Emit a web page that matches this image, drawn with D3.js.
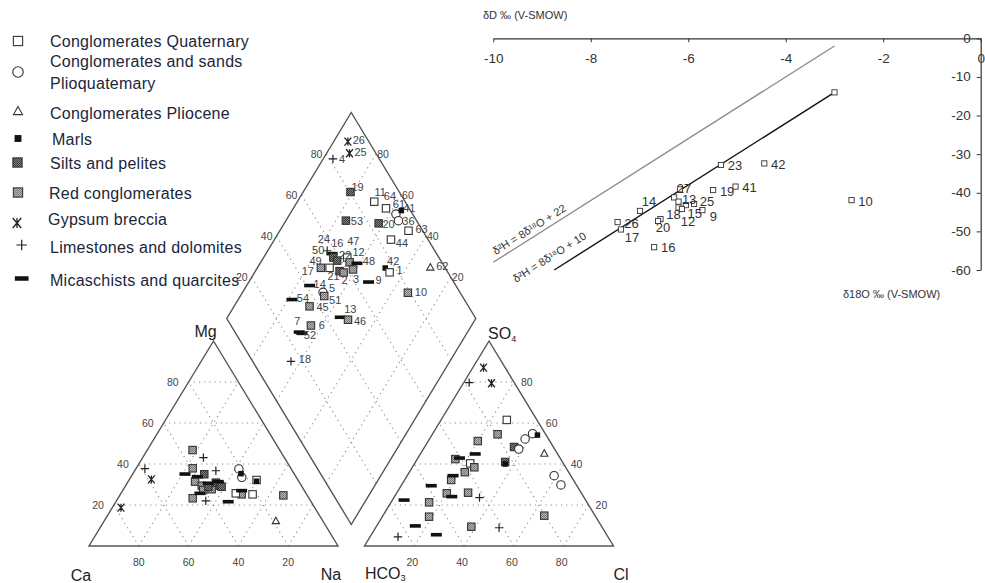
<!DOCTYPE html>
<html>
<head>
<meta charset="utf-8">
<title>Piper diagram and stable isotopes</title>
<script src="https://cdn.jsdelivr.net/npm/d3@7"></script>
<style>
  body { margin: 0; background: #fff; }
  text { font-family: Arial, "Liberation Sans", sans-serif; }
</style>
</head>
<body>
<div id="chart"></div>
<script>
// ---------- data ----------
var legendTypes = ["quat", "plioq", "plio", "marl", "silt", "red", "gyp", "lime", "mica"];
var legendNames = [["Conglomerates Quaternary"], ["Conglomerates and sands", "Plioquatemary"],
    ["Conglomerates Pliocene"], ["Marls"], ["Silts and pelites"], ["Red conglomerates"],
    ["Gypsum breccia"], ["Limestones and dolomites"], ["Micaschists and quarcites"]];

var pipTicks = [20, 40, 60, 80];

// cation triangle: [type, Mg %, Na+K %]
var cations = [
    ["red", 46.8, 18.2], ["red", 37.9, 22.7], ["red", 31.4, 26.9], ["red", 23.3, 30.0],
    ["red", 24.7, 65.7], ["red", 25.2, 48.7], ["red", 29.4, 30.6], ["red", 27.7, 35.4], ["red", 27.3, 32.2],
    ["silt", 35.0, 28.8], ["silt", 28.9, 33.5], ["silt", 30.9, 35.5], ["silt", 29.4, 37.9], ["silt", 28.9, 38.8],
    ["quat", 25.7, 46.1], ["quat", 25.2, 53.1], ["quat", 32.2, 51.2],
    ["plioq", 37.6, 41.4], ["plioq", 33.5, 44.6],
    ["plio", 12.3, 68.9],
    ["marl", 35.3, 43.4], ["marl", 31.6, 51.5],
    ["gyp", 32.5, 8.8], ["gyp", 18.7, 3.5],
    ["lime", 37.7, 3.6], ["lime", 43.1, 24.4], ["lime", 36.7, 32.6], ["lime", 22.0, 35.9],
    ["mica", 35.1, 21.0], ["mica", 25.7, 31.7], ["mica", 21.6, 45.1], ["mica", 27.0, 47.8],
    ["mica", 30.6, 32.6], ["mica", 31.4, 36.2], ["mica", 33.8, 26.6]
];

// anion triangle: [type, SO4 %, Cl %]
var anions = [
    ["gyp", 87.0, 4.3], ["gyp", 79.4, 11.3],
    ["lime", 79.7, 2.2], ["lime", 23.6, 34.4], ["lime", 8.9, 49.6], ["lime", 4.5, 11.2],
    ["quat", 61.5, 26.4], ["quat", 40.3, 22.3],
    ["red", 54.5, 26.2], ["red", 51.2, 19.9], ["red", 42.4, 15.3], ["red", 38.4, 24.9],
    ["red", 36.0, 22.3], ["red", 32.2, 18.7], ["red", 25.7, 20.2], ["red", 26.0, 28.6],
    ["red", 21.3, 15.3], ["red", 14.3, 18.8], ["red", 14.8, 64.8], ["red", 9.4, 38.2],
    ["silt", 48.3, 35.9], ["silt", 41.0, 36.0],
    ["plioq", 54.8, 40.1], ["plioq", 52.2, 38.4], ["plioq", 47.3, 38.3], ["plioq", 34.3, 59.0], ["plioq", 29.8, 64.0],
    ["marl", 54.1, 42.4], ["marl", 40.0, 36.5],
    ["plio", 45.2, 49.6],
    ["mica", 44.9, 22.0], ["mica", 42.9, 16.7], ["mica", 34.3, 18.4], ["mica", 29.4, 12.1],
    ["mica", 24.1, 23.0], ["mica", 22.4, 4.7], ["mica", 9.8, 15.5], ["mica", 5.5, 26.1]
];

// diamond: [sample, type, Ca+Mg %, SO4+Cl %]
var diamond = [
    ["26", "gyp", 94.3, 91.6], ["25", "gyp", 90.8, 89.4], ["4", "lime", 96.1, 81.4],
    ["19", "silt", 81.0, 80.4], ["11", "quat", 69.1, 87.6], ["64", "quat", 62.8, 90.7],
    ["61", "plioq", 57.4, 93.3], ["41", "marl", 56.1, 96.3], ["36", "plioq", 54.8, 92.7],
    ["53", "silt", 75.9, 71.6], ["20", "silt", 62.1, 84.1], ["63", "quat", 48.3, 94.3],
    ["44", "quat", 53.2, 85.1], ["24", "mica", 73.5, 58.0], ["16", "silt", 72.0, 57.6],
    ["50", "lime", 76.1, 56.8], ["22", "silt", 69.7, 58.4], ["47", "quat", 66.4, 63.2],
    ["12", "red", 64.3, 63.0], ["48", "mica", 61.1, 65.7], ["49", "quat", 71.0, 53.6],
    ["17", "red", 74.5, 50.1], ["21", "silt", 66.2, 56.8], ["2", "red", 64.2, 58.1],
    ["3", "red", 61.2, 62.6], ["14", "mica", 74.7, 41.3], ["5", "plioq", 67.7, 45.0],
    ["51", "red", 66.3, 44.6], ["54", "mica", 78.4, 30.8], ["45", "red", 69.7, 36.2],
    ["13", "mica", 54.7, 45.9], ["46", "red", 51.0, 48.4], ["7", "mica", 67.6, 25.8],
    ["6", "red", 64.5, 32.1], ["52", "mica", 66.2, 26.6], ["18", "lime", 63.8, 15.4],
    ["9", "mica", 51.9, 65.8], ["42", "marl", 48.6, 75.9], ["1", "quat", 45.8, 76.6],
    ["62", "plio", 30.7, 94.2], ["10", "red", 33.5, 79.0]
];

// stable isotopes
var isoLabel = ["", "23", "42", "19", "41", "10", "27", "13", "", "15", "25", "", "12", "9", "18", "20", "14", "26", "17", "16"];
var d18O = [-3.0, -5.33, -4.44, -5.49, -5.03, -2.65, -6.17, -6.29, -6.20, -6.05, -5.88, -6.20, -6.13, -5.71, -6.57, -6.62, -6.99, -7.45, -7.38, -6.70];
var dD = [-14.0, -32.8, -32.4, -39.3, -38.4, -41.9, -39.1, -41.2, -42.3, -43.2, -42.9, -43.8, -44.2, -44.5, -46.8, -47.3, -44.7, -47.6, -49.5, -54.1];

var xTicks = [-10, -8, -6, -4, -2, 0];
var yTicks = [0, -10, -20, -30, -40, -50, -60];

// meteoric water lines dD = 8 d18O + b
var mwlIntercept = [22, 10];
var mwlFrom = [-10, -8.75];
var mwlTo = [-3, -3];
var mwlText = ["\u03B4\u00B2H = 8\u03B4\u00B9\u2078O + 22", "\u03B4\u00B2H = 8\u03B4\u00B9\u2078O + 10"];

// ---------- setup ----------
var svg = d3.select("#chart").append("svg")
    .attr("width", 985).attr("height", 583)
    .style("background", "#fff");

var defs = svg.append("defs");
function speckle(id, base, dot) {
    var p = defs.append("pattern").attr("id", id).attr("width", 2).attr("height", 2)
        .attr("patternUnits", "userSpaceOnUse");
    p.append("rect").attr("width", 2).attr("height", 2).attr("fill", base);
    p.append("rect").attr("width", 1).attr("height", 1).attr("fill", dot);
    p.append("rect").attr("x", 1).attr("y", 1).attr("width", 1).attr("height", 1).attr("fill", dot);
}
speckle("siltFill", "#808080", "#3a3a3a");
speckle("redFill", "#b4b4b4", "#7a7a7a");

function drawSymbol(g, type, x, y, k) {
    k = k || 1;
    if (type === "quat" || type === "silt" || type === "red") {
        var w = 7.4 * k;
        g.append("rect").attr("x", x - w / 2).attr("y", y - w / 2).attr("width", w).attr("height", w)
            .attr("fill", type === "quat" ? "#fff" : "url(#" + type + "Fill)")
            .attr("stroke", "#333").attr("stroke-width", 1.1);
    } else if (type === "marl") {
        var m = 5.5 * k;
        g.append("rect").attr("x", x - m / 2).attr("y", y - m / 2).attr("width", m).attr("height", m)
            .attr("fill", "#111");
    } else if (type === "plioq") {
        g.append("circle").attr("cx", x).attr("cy", y).attr("r", 4.2 * k)
            .attr("fill", "#fff").attr("stroke", "#333").attr("stroke-width", 1.1);
    } else if (type === "plio") {
        var t = 3.6 * k;
        g.append("path")
            .attr("d", "M" + x + "," + (y - t) + "L" + (x + t) + "," + (y + t * 0.8) + "L" + (x - t) + "," + (y + t * 0.8) + "Z")
            .attr("fill", "#fff").attr("stroke", "#333").attr("stroke-width", 1.1);
    } else if (type === "gyp") {
        var a = 3.4 * k, b = 4 * k;
        g.append("path")
            .attr("d", "M" + (x - a) + "," + (y - b) + "L" + (x + a) + "," + (y + b) +
                "M" + (x + a) + "," + (y - b) + "L" + (x - a) + "," + (y + b) +
                "M" + x + "," + (y - b) + "L" + x + "," + (y + b))
            .attr("stroke", "#222").attr("stroke-width", 1.3).attr("fill", "none");
    } else if (type === "lime") {
        var c = 4.2 * k;
        g.append("path")
            .attr("d", "M" + (x - c) + "," + y + "L" + (x + c) + "," + y + "M" + x + "," + (y - c) + "L" + x + "," + (y + c))
            .attr("stroke", "#222").attr("stroke-width", 1.2).attr("fill", "none");
    } else if (type === "mica") {
        var bw = 11 * k, bh = 3.6 * k;
        g.append("rect").attr("x", x - bw / 2).attr("y", y - bh / 2).attr("width", bw).attr("height", bh)
            .attr("fill", "#111");
    }
}

// ---------- legend ----------
var legMarkX = [18, 18, 18, 18, 17.5, 18, 17, 21.7, 21.7];
var legMarkY = [41, 72, 111, 138.5, 162.5, 192.5, 223, 245, 278.5];
var legTextX = [50, 50, 50, 52, 50, 49, 48, 50, 50];
var legBase = [[46.5], [67, 89], [118.5], [145], [169], [199], [224.5], [252.5], [285.5]];

var legend = svg.append("g");
legendTypes.forEach(function(t, i) {
    drawSymbol(legend, t, legMarkX[i], legMarkY[i], 1.25);
    legendNames[i].forEach(function(line, j) {
        legend.append("text").attr("x", legTextX[i]).attr("y", legBase[i][j])
            .attr("font-size", 16).attr("letter-spacing", 0.25).attr("fill", "#20263a")
            .text(line);
    });
});

// ---------- Piper ----------
var side = 249, triH = 205, diaH = 206;
var pw = d3.scaleLinear().domain([0, 100]).range([0, side]);
var ph = d3.scaleLinear().domain([0, 100]).range([0, triH]);
var dh = d3.scaleLinear().domain([0, 100]).range([0, diaH]);

var catO = [89, 546], anO = [364.5, 546], diaB = [351.25, 524.5];
function catPos(mg, na) { return [catO[0] + pw(na) + pw(mg) / 2, catO[1] - ph(mg)]; }
function anPos(so4, cl) { return [anO[0] + pw(cl) + pw(so4) / 2, anO[1] - ph(so4)]; }
function diaPos(camg, socl) { return [diaB[0] + pw(socl - camg) / 2, diaB[1] - dh(camg + socl)]; }

var line = d3.line();
var piper = svg.append("g");
var grid = piper.append("g").attr("stroke", "#8c8c8c").attr("stroke-width", 1.1)
    .attr("stroke-dasharray", "1.2,4").attr("fill", "none");

pipTicks.forEach(function(v) {
    grid.append("path").attr("d", line([catPos(v, 0), catPos(v, 100 - v)]));
    grid.append("path").attr("d", line([catPos(0, v), catPos(100 - v, v)]));
    grid.append("path").attr("d", line([catPos(0, 100 - v), catPos(100 - v, 0)]));
    grid.append("path").attr("d", line([anPos(v, 0), anPos(v, 100 - v)]));
    grid.append("path").attr("d", line([anPos(0, v), anPos(100 - v, v)]));
    grid.append("path").attr("d", line([anPos(0, 100 - v), anPos(100 - v, 0)]));
    grid.append("path").attr("d", line([diaPos(v, 0), diaPos(v, 100)]));
    grid.append("path").attr("d", line([diaPos(0, v), diaPos(100, v)]));
});

var outline = piper.append("g").attr("stroke", "#555").attr("stroke-width", 1.4).attr("fill", "none");
outline.append("path").attr("d", line([catPos(0, 0), catPos(0, 100), catPos(100, 0)]) + "Z");
outline.append("path").attr("d", line([anPos(0, 0), anPos(0, 100), anPos(100, 0)]) + "Z");
outline.append("path").attr("d", line([diaPos(0, 0), diaPos(100, 0), diaPos(100, 100), diaPos(0, 100)]) + "Z");

// tick labels
var tl = piper.append("g").attr("font-size", 10.5).attr("fill", "#444");
pipTicks.forEach(function(v) {
    var p = catPos(v, 0);
    tl.append("text").attr("x", p[0] - 10).attr("y", p[1] + 4).attr("text-anchor", "end").text(v);
    p = catPos(0, 100 - v);
    tl.append("text").attr("x", p[0]).attr("y", 565.5).attr("text-anchor", "middle").text(v);
    p = anPos(v, 100 - v);
    tl.append("text").attr("x", p[0] + 7).attr("y", p[1] + 4).attr("text-anchor", "start").text(v);
    p = anPos(0, v);
    tl.append("text").attr("x", p[0] - 2).attr("y", 565.5).attr("text-anchor", "middle").text(v);
    p = diaPos(100, v);
    tl.append("text").attr("x", p[0] - 4).attr("y", p[1] + 4).attr("text-anchor", "end").text(v);
    p = diaPos(v, 100);
    tl.append("text").attr("x", p[0] + 1).attr("y", p[1] + 4).attr("text-anchor", "start").text(v);
});

// corner names
var cn = piper.append("g").attr("font-size", 16).attr("fill", "#222");
var mgP = catPos(100, 0);
cn.append("text").attr("x", mgP[0] - 8).attr("y", mgP[1] - 4.5).attr("text-anchor", "middle").text("Mg");
cn.append("text").attr("x", 81).attr("y", 580.5).attr("text-anchor", "middle").text("Ca");
cn.append("text").attr("x", 331).attr("y", 580).attr("text-anchor", "middle").text("Na");
var hc = cn.append("text").attr("x", 365).attr("y", 578.5);
hc.append("tspan").text("HCO");
hc.append("tspan").attr("font-size", 9).attr("dy", 2).text("3");
cn.append("text").attr("x", 621).attr("y", 580).attr("text-anchor", "middle").text("Cl");
var soP = anPos(100, 0);
var so = cn.append("text").attr("x", soP[0] - 1).attr("y", soP[1] - 2);
so.append("tspan").text("SO");
so.append("tspan").attr("font-size", 9).attr("dy", 3).text("4");

// points
var pts = piper.append("g");
cations.forEach(function(d) { var p = catPos(d[1], d[2]); drawSymbol(pts, d[0], p[0], p[1], 1); });
anions.forEach(function(d) { var p = anPos(d[1], d[2]); drawSymbol(pts, d[0], p[0], p[1], 1); });
diamond.forEach(function(d) { var p = diaPos(d[2], d[3]); drawSymbol(pts, d[1], p[0], p[1], 1); });

// sample numbers in the diamond (label centre offset from the point)
var diaNudge = {
    "26": [11, -2], "25": [11, -1], "4": [9, 0], "19": [7, -5], "11": [6, -10], "64": [4, -12],
    "61": [3, -10], "41": [8, -3], "36": [10, 0], "53": [11, 0], "20": [10, 1], "63": [13, -2],
    "44": [11, 3], "24": [-8, -15], "16": [4, -15], "50": [-9, -1], "22": [8, -6], "47": [6, -17],
    "12": [9, -10], "48": [12, -2], "49": [-14, -7], "17": [-13, 3], "21": [-6, 5], "2": [1, 7],
    "3": [3, 10], "14": [10, -2], "5": [9, -4], "51": [11, 4], "54": [11, -2], "45": [13, 1],
    "13": [10, -8], "46": [12, 1], "7": [-2, -11], "6": [11, -1], "52": [8, 2], "18": [14, -2],
    "9": [10, -2], "42": [8, -7], "1": [10, -2], "62": [12, -1], "10": [13, -1]
};
var dl = piper.append("g").attr("font-size", 11).attr("fill", "#444").attr("text-anchor", "middle");
diamond.forEach(function(d) {
    var p = diaPos(d[2], d[3]), o = diaNudge[d[0]] || [11, -1];
    dl.append("text").attr("x", p[0] + o[0]).attr("y", p[1] + o[1] + 4).text(d[0]);
});

// ---------- isotope scatter ----------
var xS = d3.scaleLinear().domain([-10, 0]).range([493.3, 980.7]);
var yS = d3.scaleLinear().domain([-60, 0]).range([270, 38.3]);

var iso = svg.append("g");
var xAx = iso.append("g").attr("transform", "translate(0," + yS(0) + ")")
    .call(d3.axisBottom(xS).tickValues(xTicks).tickSize(4).tickSizeOuter(0).tickPadding(11)
        .tickFormat(function(d) { return String(d); }));
var yAx = iso.append("g").attr("transform", "translate(" + xS(0) + ",0)")
    .call(d3.axisLeft(yS).tickValues(yTicks).tickSize(4).tickSizeOuter(0).tickPadding(6)
        .tickFormat(function(d) { return String(d); }));
[xAx, yAx].forEach(function(ax) {
    ax.attr("font-family", "Arial, 'Liberation Sans', sans-serif").attr("font-size", 13.5);
    ax.select(".domain").attr("stroke", "#333").attr("stroke-width", 1.2);
    ax.selectAll(".tick line").attr("stroke", "#333");
    ax.selectAll(".tick text").attr("fill", "#333");
});
yAx.selectAll(".tick text").attr("dy", "0.3em");

iso.append("text").attr("x", 483).attr("y", 19).attr("font-size", 11).attr("fill", "#333")
    .text("\u03B4D \u2030 (V-SMOW)");
iso.append("text").attr("x", 843).attr("y", 298).attr("font-size", 11).attr("fill", "#333")
    .text("\u03B418O \u2030 (V-SMOW)");

var mwlColor = ["#8c8c8c", "#111"];
var mwlLift = [-4.5, -9.5];
var mwlAt = [-9.17, -8.70];
var ang = Math.atan2(yS(8 * -3) - yS(8 * -10), xS(-3) - xS(-10)) * 180 / Math.PI;
mwlIntercept.forEach(function(b, i) {
    var lf = d3.line().x(function(v) { return xS(v); }).y(function(v) { return yS(8 * v + b); });
    iso.append("path").attr("d", lf([mwlFrom[i], mwlTo[i]]))
        .attr("stroke", mwlColor[i]).attr("stroke-width", 1.4).attr("fill", "none");
    iso.append("text")
        .attr("transform", "translate(" + xS(mwlAt[i]) + "," + yS(8 * mwlAt[i] + b) + ") rotate(" + ang + ")")
        .attr("y", mwlLift[i]).attr("text-anchor", "middle").attr("font-size", 11).attr("fill", "#333")
        .text(mwlText[i]);
});

var isoNudge = {
    "27": [4, -1], "13": [15, 2], "25": [13, -2], "15": [9, 8], "12": [6, 13], "9": [11, 6],
    "18": [13, -5], "20": [5, 7], "14": [9, -9], "17": [11, 8], "16": [14, 0]
};
d18O.forEach(function(x, i) {
    var px = xS(x), py = yS(dD[i]);
    iso.append("rect").attr("x", px - 2.6).attr("y", py - 2.6).attr("width", 5.2).attr("height", 5.2)
        .attr("fill", "#fff").attr("stroke", "#333").attr("stroke-width", 0.9);
});
d18O.forEach(function(x, i) {
    if (!isoLabel[i]) return;
    var o = isoNudge[isoLabel[i]] || [14, 1];
    iso.append("text").attr("x", xS(x) + o[0]).attr("y", yS(dD[i]) + o[1] + 4.5)
        .attr("text-anchor", "middle").attr("font-size", 13).attr("fill", "#333")
        .text(isoLabel[i]);
});
</script>
</body>
</html>
